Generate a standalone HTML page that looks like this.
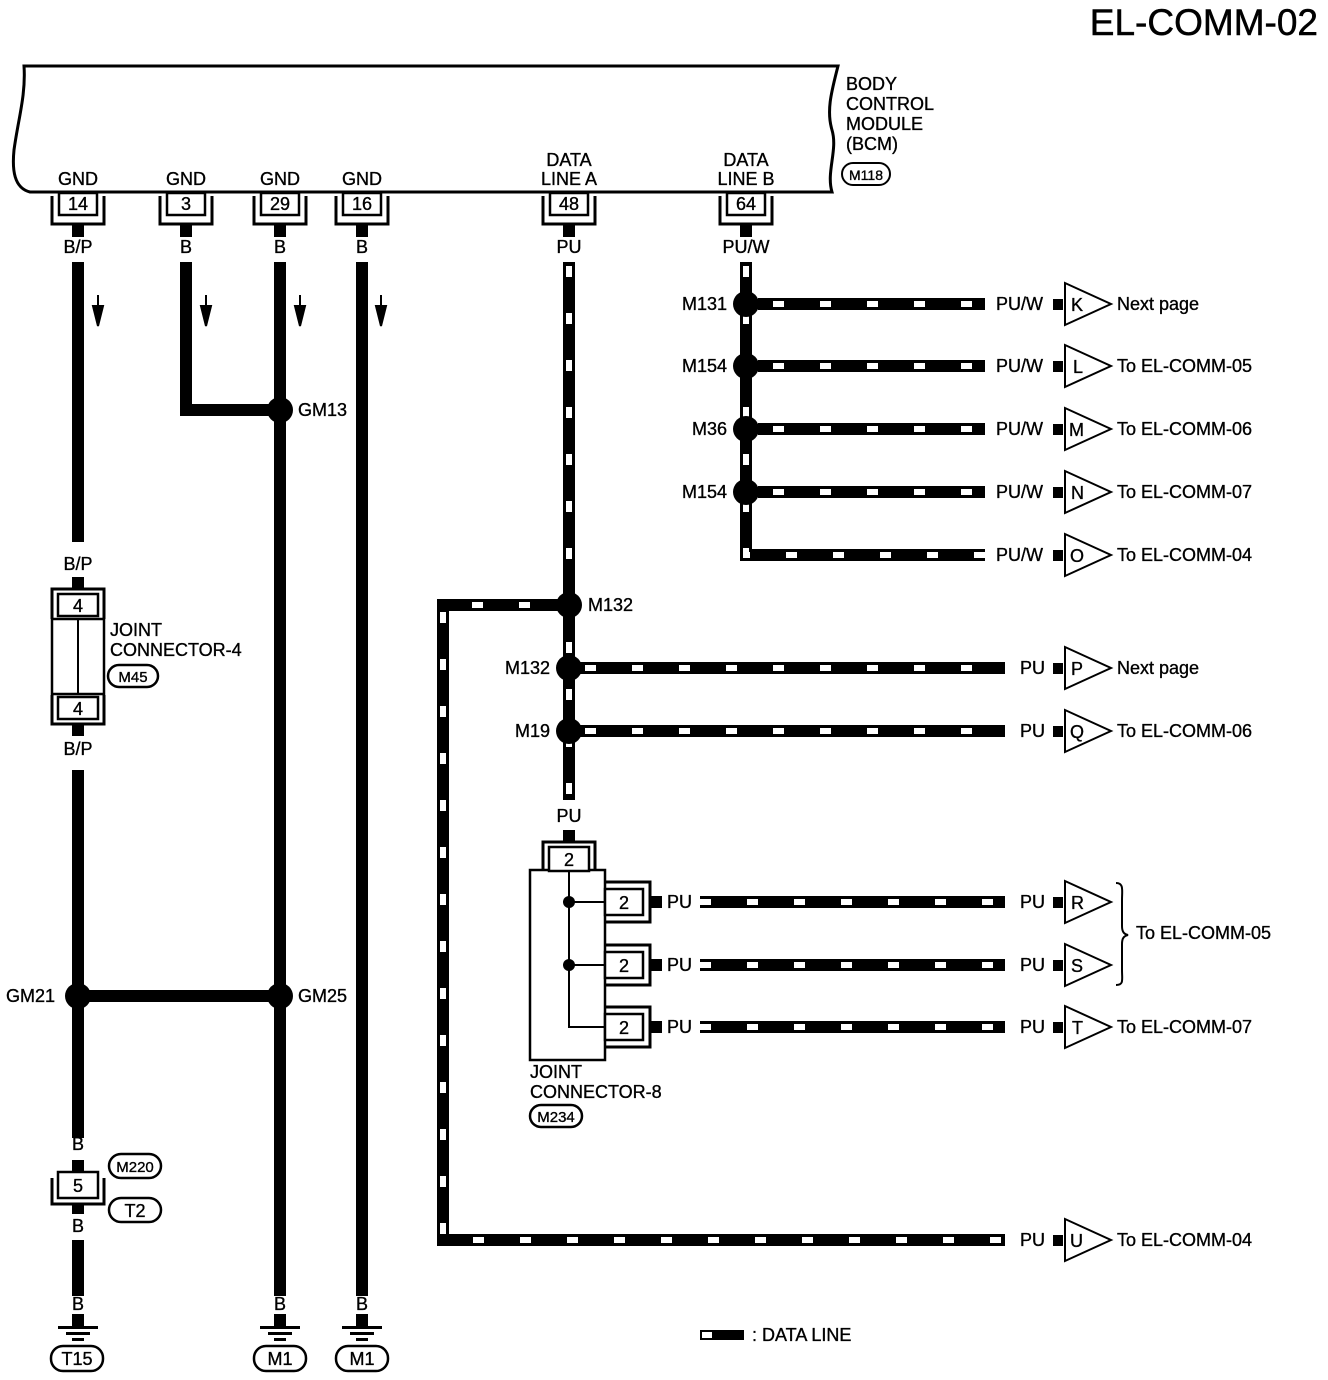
<!DOCTYPE html>
<html><head><meta charset="utf-8"><style>
html,body{margin:0;padding:0;background:#fff}
svg{display:block}
text{font-family:"Liberation Sans",Arial,sans-serif;font-size:18px;fill:#000;stroke:#000;stroke-width:0.35}
.dk{stroke:#000;stroke-width:12;fill:none}
.dw{stroke:#fff;stroke-width:6;fill:none;stroke-dasharray:11 36}
.w{stroke:#000;stroke-width:12;fill:none}
.t{stroke:#000;stroke-width:2.5;fill:#fff}
</style></head><body>
<svg width="1328" height="1380" viewBox="0 0 1328 1380" xmlns="http://www.w3.org/2000/svg">
<text x="1318" y="35" text-anchor="end" style="font-size:37px;stroke-width:0.5">EL-COMM-02</text>

<path d="M24,66 H838 C832,90 826,110 832,130 C838,150 826,172 832,192 H30 C14,188 12,170 14,150 C18,120 26,95 24,66 Z" fill="none" stroke="#000" stroke-width="3"/>
<text x="846" y="90">BODY</text><text x="846" y="110">CONTROL</text><text x="846" y="130">MODULE</text><text x="846" y="150">(BCM)</text>
<rect x="842" y="163" width="48" height="22" rx="11" fill="#fff" stroke="#000" stroke-width="2"/><text x="866" y="180" text-anchor="middle" style="font-size:14px">M118</text>

<g text-anchor="middle">
<text x="78" y="185">GND</text><text x="186" y="185">GND</text><text x="280" y="185">GND</text><text x="362" y="185">GND</text>
<text x="569" y="166">DATA</text><text x="569" y="185">LINE A</text>
<text x="746" y="166">DATA</text><text x="746" y="185">LINE B</text>
</g>

<g stroke="#000" stroke-width="3" fill="none">
<path d="M52,196V224H104V196"/><path d="M160,196V224H212V196"/><path d="M254,196V224H306V196"/><path d="M336,196V224H388V196"/><path d="M543,196V224H595V196"/><path d="M720,196V224H772V196"/>
</g>
<g class="t">
<rect x="59" y="193" width="38" height="22"/><rect x="167" y="193" width="38" height="22"/><rect x="261" y="193" width="38" height="22"/><rect x="343" y="193" width="38" height="22"/><rect x="550" y="193" width="38" height="22"/><rect x="727" y="193" width="38" height="22"/>
</g>
<g text-anchor="middle">
<text x="78" y="210">14</text><text x="186" y="210">3</text><text x="280" y="210">29</text><text x="362" y="210">16</text><text x="569" y="210">48</text><text x="746" y="210">64</text>
</g>
<g fill="#000"><rect x="72" y="224" width="12" height="13"/><rect x="180" y="224" width="12" height="13"/><rect x="274" y="224" width="12" height="13"/><rect x="356" y="224" width="12" height="13"/><rect x="563" y="224" width="12" height="13"/><rect x="740" y="224" width="12" height="13"/></g>
<g text-anchor="middle">
<text x="78" y="253">B/P</text><text x="186" y="253">B</text><text x="280" y="253">B</text><text x="362" y="253">B</text><text x="569" y="253">PU</text><text x="746" y="253">PU/W</text>
</g>

<path class="w" d="M78,262V542"/>
<path class="w" d="M186,262V410H280"/>
<path class="w" d="M280,262V1296"/>
<path class="w" d="M362,262V1296"/>
<path class="w" d="M78,770V1138"/>
<path class="w" d="M78,996H280"/>
<path class="w" d="M78,1240V1296"/>
<g stroke="#000" stroke-width="2" fill="#000">
<line x1="98" y1="295" x2="98" y2="318"/><path d="M93,306L103,306L98,326Z"/>
<line x1="206" y1="295" x2="206" y2="318"/><path d="M201,306L211,306L206,326Z"/>
<line x1="300" y1="295" x2="300" y2="318"/><path d="M295,306L305,306L300,326Z"/>
<line x1="381" y1="295" x2="381" y2="318"/><path d="M376,306L386,306L381,326Z"/>
</g>
<circle cx="280" cy="410" r="13"/><text x="298" y="416">GM13</text>
<circle cx="78" cy="996" r="13"/><text x="6" y="1002">GM21</text>
<circle cx="280" cy="996" r="13"/><text x="298" y="1002">GM25</text>

<text x="78" y="570" text-anchor="middle">B/P</text>
<rect x="72" y="577" width="12" height="12" fill="#000"/>
<path d="M52,619V589H104V619" fill="none" stroke="#000" stroke-width="3"/>
<rect x="58" y="594" width="40" height="22" class="t"/><text x="78" y="612" text-anchor="middle">4</text>
<rect x="52" y="619" width="52" height="75" fill="#fff" stroke="#000" stroke-width="2.5"/>
<line x1="78" y1="619" x2="78" y2="694" stroke="#000" stroke-width="2"/>
<path d="M52,695V724H104V695" fill="none" stroke="#000" stroke-width="3"/>
<rect x="58" y="697" width="40" height="22" class="t"/><text x="78" y="715" text-anchor="middle">4</text>
<rect x="72" y="724" width="12" height="12" fill="#000"/>
<text x="78" y="755" text-anchor="middle">B/P</text>
<text x="110" y="636">JOINT</text><text x="110" y="656">CONNECTOR-4</text>
<rect x="108" y="665" width="50" height="22" rx="11" class="t"/><text x="133" y="682" text-anchor="middle" style="font-size:15px">M45</text>

<text x="78" y="1150" text-anchor="middle">B</text>
<rect x="72" y="1160" width="12" height="12" fill="#000"/>
<path d="M52,1178V1204H104V1178" fill="none" stroke="#000" stroke-width="3"/>
<rect x="58" y="1172" width="40" height="26" class="t"/><text x="78" y="1192" text-anchor="middle">5</text>
<rect x="72" y="1204" width="12" height="10" fill="#000"/>
<text x="78" y="1232" text-anchor="middle">B</text>
<rect x="109" y="1154" width="52" height="24" rx="12" class="t"/><text x="135" y="1172" text-anchor="middle" style="font-size:15px">M220</text>
<rect x="109" y="1198" width="52" height="24" rx="12" class="t"/><text x="135" y="1217" text-anchor="middle">T2</text>

<g text-anchor="middle">
<text x="78" y="1310">B</text><text x="280" y="1310">B</text><text x="362" y="1310">B</text>
</g>
<g fill="#000">
<rect x="72" y="1314" width="12" height="12"/><rect x="58" y="1326" width="40" height="3"/><rect x="66" y="1332" width="24" height="3"/><rect x="72" y="1338" width="12" height="3"/>
<rect x="274" y="1314" width="12" height="12"/><rect x="260" y="1326" width="40" height="3"/><rect x="268" y="1332" width="24" height="3"/><rect x="274" y="1338" width="12" height="3"/>
<rect x="356" y="1314" width="12" height="12"/><rect x="342" y="1326" width="40" height="3"/><rect x="350" y="1332" width="24" height="3"/><rect x="356" y="1338" width="12" height="3"/>
</g>
<rect x="51" y="1346" width="52" height="25" rx="12" class="t"/><text x="77" y="1365" text-anchor="middle">T15</text>
<rect x="254" y="1346" width="52" height="25" rx="12" class="t"/><text x="280" y="1365" text-anchor="middle">M1</text>
<rect x="336" y="1346" width="52" height="25" rx="12" class="t"/><text x="362" y="1365" text-anchor="middle">M1</text>

<g>
<path class="dk" d="M569,262V800"/><path class="dw" d="M569,266V800"/>
<path class="dk" d="M746,262V555H985"/><path class="dw" d="M746,266V555H985"/>
<path class="dk" d="M758,304H985"/><path class="dw" d="M773,304H985"/>
<path class="dk" d="M758,366H985"/><path class="dw" d="M773,366H985"/>
<path class="dk" d="M758,429H985"/><path class="dw" d="M773,429H985"/>
<path class="dk" d="M758,492H985"/><path class="dw" d="M773,492H985"/>
<path class="dk" d="M569,605H443V1240H1005"/><path class="dw" d="M530,605H443V1240H1005"/>
<path class="dk" d="M580,668H1005"/><path class="dw" d="M585,668H1005"/>
<path class="dk" d="M580,731H1005"/><path class="dw" d="M585,731H1005"/>
<path class="dk" d="M700,902H1005"/><path class="dw" d="M700,902H1005"/>
<path class="dk" d="M700,965H1005"/><path class="dw" d="M700,965H1005"/>
<path class="dk" d="M700,1027H1005"/><path class="dw" d="M700,1027H1005"/>
</g>
<g fill="#000">
<circle cx="746" cy="304" r="13"/><circle cx="746" cy="366" r="13"/><circle cx="746" cy="429" r="13"/><circle cx="746" cy="492" r="13"/>
<circle cx="569" cy="605" r="13"/><circle cx="569" cy="668" r="13"/><circle cx="569" cy="731" r="13"/>
</g>
<g text-anchor="end">
<text x="727" y="310">M131</text><text x="727" y="372">M154</text><text x="727" y="435">M36</text><text x="727" y="498">M154</text>
<text x="550" y="674">M132</text><text x="550" y="737">M19</text>
</g>
<text x="588" y="611">M132</text>

<g>
<text x="996" y="310">PU/W</text><text x="996" y="372">PU/W</text><text x="996" y="435">PU/W</text><text x="996" y="498">PU/W</text><text x="996" y="561">PU/W</text>
<text x="1020" y="674">PU</text><text x="1020" y="737">PU</text><text x="1020" y="908">PU</text><text x="1020" y="971">PU</text><text x="1020" y="1033">PU</text><text x="1020" y="1246">PU</text>
</g>
<g fill="#000">
<rect x="1053" y="299" width="10" height="11"/><rect x="1053" y="361" width="10" height="11"/><rect x="1053" y="424" width="10" height="11"/><rect x="1053" y="487" width="10" height="11"/><rect x="1053" y="550" width="10" height="11"/>
<rect x="1053" y="663" width="10" height="11"/><rect x="1053" y="726" width="10" height="11"/><rect x="1053" y="897" width="10" height="11"/><rect x="1053" y="960" width="10" height="11"/><rect x="1053" y="1022" width="10" height="11"/><rect x="1053" y="1235" width="10" height="11"/>
</g>
<g fill="#fff" stroke="#000" stroke-width="2">
<path d="M1065,283V325L1111,304Z"/><path d="M1065,345V387L1111,366Z"/><path d="M1065,408V450L1111,429Z"/><path d="M1065,471V513L1111,492Z"/><path d="M1065,534V576L1111,555Z"/>
<path d="M1065,647V689L1111,668Z"/><path d="M1065,710V752L1111,731Z"/><path d="M1065,881V923L1111,902Z"/><path d="M1065,944V986L1111,965Z"/><path d="M1065,1006V1048L1111,1027Z"/><path d="M1065,1219V1261L1111,1240Z"/>
</g>
<g>
<text x="1071" y="311">K</text><text x="1073" y="373">L</text><text x="1069" y="436">M</text><text x="1071" y="499">N</text><text x="1070" y="562">O</text>
<text x="1071" y="675">P</text><text x="1070" y="738">Q</text><text x="1071" y="909">R</text><text x="1071" y="972">S</text><text x="1072" y="1034">T</text><text x="1070" y="1247">U</text>
</g>
<g>
<text x="1117" y="310">Next page</text><text x="1117" y="372">To EL-COMM-05</text><text x="1117" y="435">To EL-COMM-06</text><text x="1117" y="498">To EL-COMM-07</text><text x="1117" y="561">To EL-COMM-04</text>
<text x="1117" y="674">Next page</text><text x="1117" y="737">To EL-COMM-06</text>
<text x="1136" y="939">To EL-COMM-05</text><text x="1117" y="1033">To EL-COMM-07</text><text x="1117" y="1246">To EL-COMM-04</text>
</g>
<path d="M1116,883C1124,883 1122,890 1122,900V926C1122,932 1124,934 1128,935C1124,936 1122,938 1122,944V970C1122,980 1124,985 1116,985" fill="none" stroke="#000" stroke-width="2"/>

<text x="569" y="822" text-anchor="middle">PU</text>
<rect x="563" y="830" width="12" height="12" fill="#000"/>
<path d="M543,870V842H595V870" fill="none" stroke="#000" stroke-width="3"/>
<rect x="530" y="870" width="75" height="190" fill="#fff" stroke="#000" stroke-width="2.5"/>
<rect x="549" y="847" width="40" height="24" class="t"/><text x="569" y="866" text-anchor="middle">2</text>
<path d="M569,871V1027H605M569,902H605M569,965H605" fill="none" stroke="#000" stroke-width="2"/>
<circle cx="569" cy="902" r="6"/><circle cx="569" cy="965" r="6"/>
<g stroke="#000" stroke-width="3" fill="none">
<path d="M605,882H650V922H605"/><path d="M605,945H650V985H605"/><path d="M605,1007H650V1047H605"/>
</g>
<g class="t"><rect x="605" y="889" width="38" height="26"/><rect x="605" y="952" width="38" height="26"/><rect x="605" y="1014" width="38" height="26"/></g>
<g text-anchor="middle"><text x="624" y="909">2</text><text x="624" y="972">2</text><text x="624" y="1034">2</text></g>
<g fill="#000"><rect x="650" y="896" width="12" height="12"/><rect x="650" y="959" width="12" height="12"/><rect x="650" y="1021" width="12" height="12"/></g>
<g><text x="667" y="908">PU</text><text x="667" y="971">PU</text><text x="667" y="1033">PU</text></g>
<text x="530" y="1078">JOINT</text><text x="530" y="1098">CONNECTOR-8</text>
<rect x="530" y="1105" width="52" height="22" rx="11" class="t"/><text x="556" y="1122" text-anchor="middle" style="font-size:15px">M234</text>

<rect x="700" y="1330" width="44" height="10" fill="#000"/><rect x="702" y="1332" width="10" height="6" fill="#fff"/>
<text x="752" y="1341">: DATA LINE</text>
</svg>
</body></html>
